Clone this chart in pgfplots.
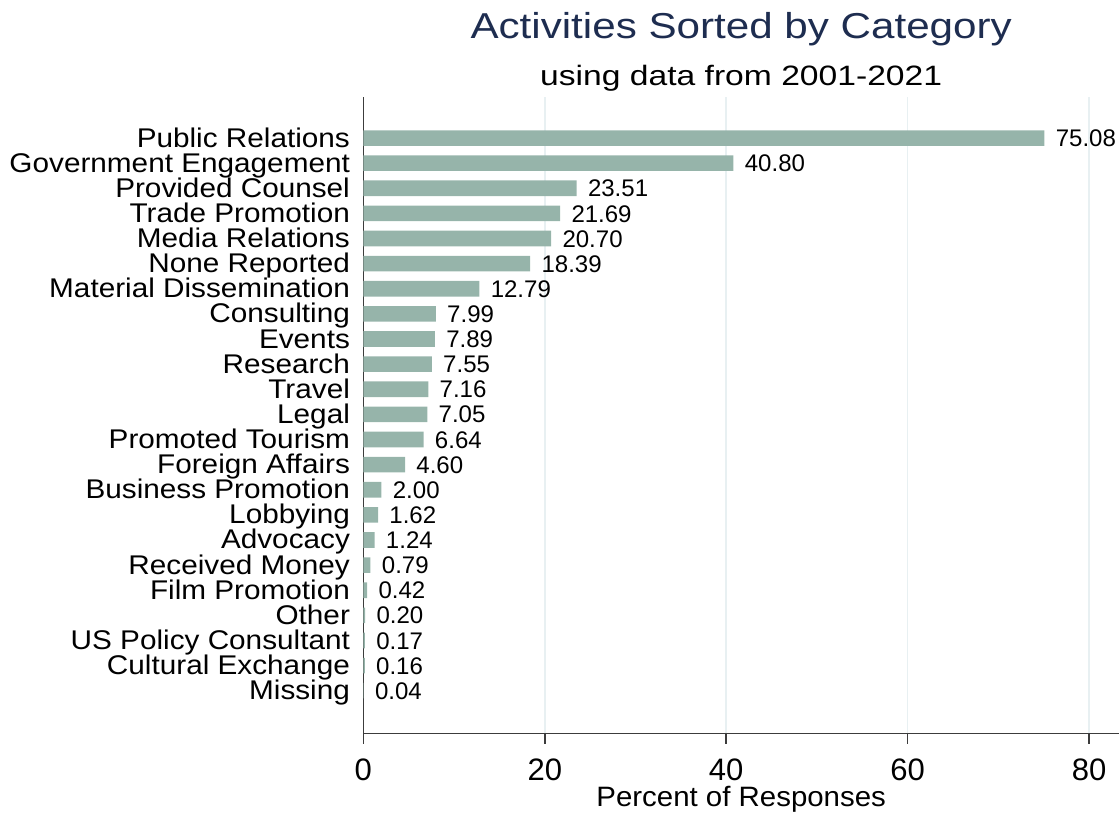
\documentclass[border=0pt]{standalone}
\usepackage{pgfplots}
\pgfplotsset{compat=1.18}
\usepackage{pgfplotstable}
\usepackage{fontspec}
\setmainfont{Liberation Sans}
\newfontfamily\titlef[FakeStretch=1.17]{Liberation Sans}
\newfontfamily\subf[FakeStretch=1.2]{Liberation Sans}
\newfontfamily\labf[FakeStretch=1.10]{Liberation Sans}
\newfontfamily\xlabf[FakeStretch=1.05]{Liberation Sans}

\definecolor{barc}{RGB}{150,180,170}
\definecolor{titlec}{RGB}{30,45,80}
\definecolor{gridc}{RGB}{232,240,242}
\definecolor{axc}{RGB}{60,60,60}

% activities, top to bottom
\pgfplotstableread[col sep=comma]{
idx,pct
1,75.08
2,40.80
3,23.51
4,21.69
5,20.70
6,18.39
7,12.79
8,7.99
9,7.89
10,7.55
11,7.16
12,7.05
13,6.64
14,4.60
15,2.00
16,1.62
17,1.24
18,0.79
19,0.42
20,0.20
21,0.17
22,0.16
23,0.04
}\acts

\begin{document}
\begin{tikzpicture}
\begin{axis}[
  scale only axis,
  width=377.5pt, height=318pt,
  xbar, bar width=0.62,
  y dir=reverse,
  xmin=0, xmax=83.3,
  ymin=-0.63, ymax=24.71,
  axis x line*=bottom, axis y line*=left,
  axis line style={axc, line width=0.8pt},
  xtick={0,20,40,60,80},
  xtick style={axc, line width=0.8pt},
  tick align=outside, major tick length=5pt,
  ytick={1,...,23},
  yticklabels={Public Relations, Government Engagement, Provided Counsel,
    Trade Promotion, Media Relations, None Reported, Material Dissemination,
    Consulting, Events, Research, Travel, Legal, Promoted Tourism,
    Foreign Affairs, Business Promotion, Lobbying, Advocacy, Received Money,
    Film Promotion, Other, US Policy Consultant, Cultural Exchange, Missing},
  ytick style={draw=none},
  yticklabel style={font=\labf\fontsize{13.5}{13.5}\selectfont, inner sep=0pt,
    anchor=base east, text height=9.5pt, text depth=0pt, xshift=-1.5pt, yshift=-4.5pt},
  xticklabel style={font=\fontsize{15.5}{15.5}\selectfont, inner sep=0pt,
    anchor=north, text height=11.1pt, text depth=0pt, yshift=-7pt},
  /pgf/number format/assume math mode=true,
  xmajorgrids, grid style={gridc, line width=0.8pt},
  nodes near coords={\pgfmathprintnumber[fixed,fixed zerofill,precision=2]{\pgfplotspointmeta}},
  nodes near coords style={font=\fontsize{12}{12}\selectfont, anchor=base west,
    inner sep=0pt, text height=8.6pt, text depth=0pt, xshift=5.5pt, yshift=-4.3pt},
  clip=false,
]
\addplot[fill=barc, draw=none] table[x=pct, y=idx] {\acts};
\node[anchor=base, font=\titlef\fontsize{18}{18}\selectfont, text=titlec]
  at (rel axis cs:0.5,1) [yshift=29.5pt] {Activities Sorted by Category};
\node[anchor=base, font=\subf\fontsize{14}{14}\selectfont]
  at (rel axis cs:0.5,1) [yshift=6pt] {using data from 2001-2021};
\node[anchor=base, inner sep=0pt, font=\xlabf\fontsize{14}{14}\selectfont]
  at (rel axis cs:0.5,0) [yshift=-36.5pt] {Percent of Responses};
% page margins as in the reference
\path (rel axis cs:0,1) ++(-181.5pt,48.5pt) coordinate (tl);
\path (rel axis cs:1,0) ++(0.5pt,-40.5pt) coordinate (br);
\path[use as bounding box] (tl) rectangle (br);
\end{axis}
\end{tikzpicture}
\end{document}
